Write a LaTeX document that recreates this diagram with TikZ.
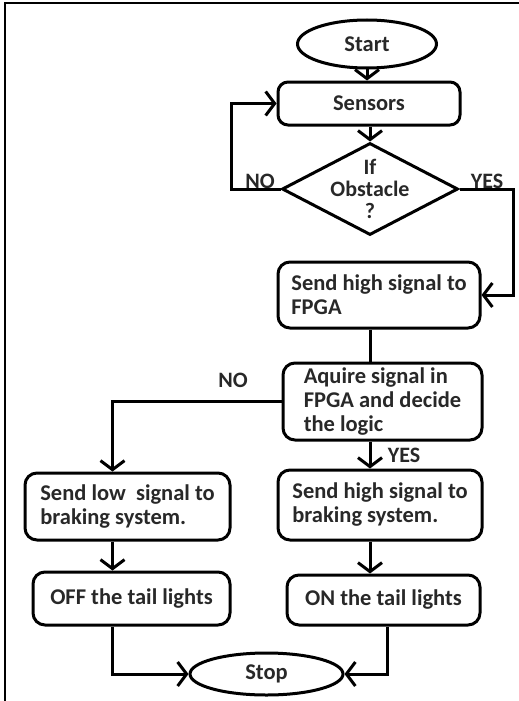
\documentclass[tikz,border=0pt]{standalone}
\usepackage{fontspec}
\setmainfont{Carlito}
\usetikzlibrary{arrows.meta,shapes.geometric,calc}
\definecolor{inkgray}{RGB}{40,40,40}
\tikzset{
  % rounded process box
  box/.style={
    draw,
    line width=3pt,
    rounded corners=12pt,
    align=left,
    inner sep=3pt,
    font=\fontsize{22.5}{24}\selectfont\bfseries,
    text=inkgray
  },
  % start / stop
  term/.style={ellipse, draw, line width=3pt, inner sep=2pt,
    font=\fontsize{22.5}{24}\selectfont\bfseries, text=inkgray},
  % decision
  decision/.style={diamond, draw, line width=3pt, inner sep=0pt},
  % connectors
  arr/.style={-{Straight Barb[length=9pt,width=24pt]}, line width=3pt},
  lin/.style={line width=3pt},
  lab/.style={font=\fontsize{22}{22}\selectfont\bfseries, text=inkgray},
}

\begin{document}
\begin{tikzpicture}[x=1pt, y=-1pt]
    \useasboundingbox (0,0) rectangle (519,701);
    % frame
    \draw[line width=2.5pt] (5,701) -- (5,3) -- (519,3);

    % top part
    \node[term, minimum width=139pt, minimum height=48pt] (start) at (367,44) {Start};
    \node[box, align=center, rounded corners=10pt, minimum width=182pt, minimum height=43pt] (sensors) at (369,103.5) {Sensors};
    \node[decision, minimum width=176pt, minimum height=92pt,
          label={[lab, align=center]center:If\\Obstacle\\?}] (obst) at (370,189) {};
    \node[box, minimum width=202pt, minimum height=66pt] (fpga) at (379,295) {Send high signal to\\FPGA};
    \node[box, minimum width=199pt, minimum height=77pt] (aquire) at (382.5,401.5) {Aquire signal in\\FPGA and decide\\the logic};

    % two branches
    \node[box, minimum width=205pt, minimum height=67pt] (lowbrake) at (127.5,506.5) {Send low\ \ signal to\\braking system.};
    \node[box, minimum width=204pt, minimum height=70pt] (highbrake) at (380,505) {Send high signal to\\braking system.};
    \node[box, minimum width=197pt, minimum height=53pt] (offlight) at (131.5,598.5) {OFF the tail lights};
    \node[box, minimum width=193pt, minimum height=50pt] (onlight) at (383.5,600) {ON the tail lights};
    \node[term, minimum width=153pt, minimum height=42pt] (stop) at (266.5,674) {Stop};

    % labels
    \node[lab] (no1) at (260,181) {NO};
    \node[lab] (yes1) at (487,181) {YES};
    \node[lab] (no2) at (233,380) {NO};
    \node[lab] (yes2) at (404,455) {YES};

    % connectors
    \draw[arr] (start.south) -- (start.south |- sensors.north);
    \draw[arr] (sensors.south -| obst) -- (obst.north);
    \draw[arr] (obst.west) -- ++(-49,0) |- (sensors.west);
    \draw[arr] (obst.east) -- ++(54,0) |- (fpga.east);
    \draw[lin] (fpga.south -| obst) -- (aquire.north -| obst);
    \draw[arr] (aquire.west) -| ([xshift=-15pt]lowbrake.north);
    \draw[arr] (aquire.south -| obst) -- (highbrake.north -| obst);
    \draw[arr] ([xshift=-15pt]lowbrake.south) -- ([xshift=-15pt]lowbrake.south |- offlight.north);
    \draw[arr] (highbrake.south -| obst) -- (onlight.north -| obst);
    \draw[arr] ([xshift=-15pt]lowbrake.south |- offlight.south) |- (stop.west);
    \draw[arr] ([xshift=4pt]onlight.south) |- (stop.east);
\end{tikzpicture}
\end{document}
